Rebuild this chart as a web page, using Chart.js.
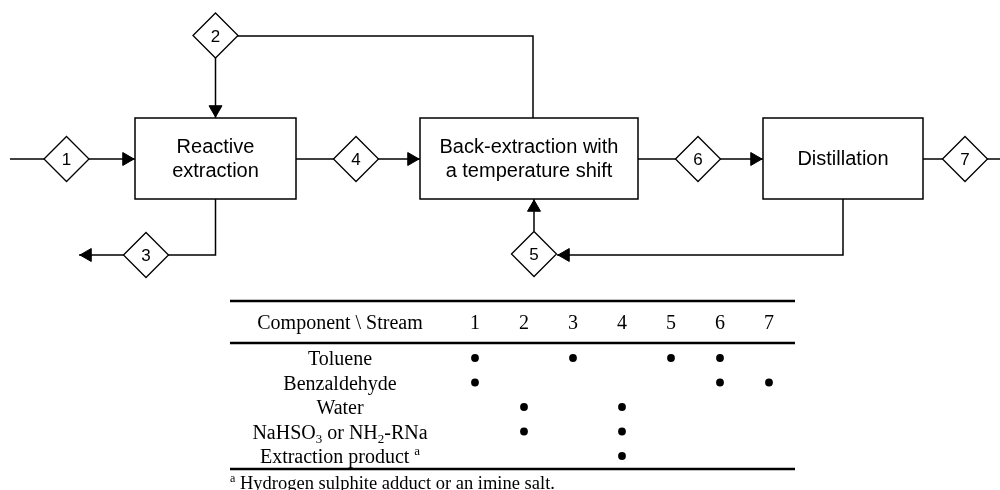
<!DOCTYPE html>
<html>
<head>
<meta charset="utf-8">
<title>Benzaldehyde recovery flowsheet</title>
<script src="https://cdn.jsdelivr.net/npm/chart.js@4.4.1/dist/chart.umd.min.js"></script>
<style>
    html, body { margin: 0; padding: 0; background: #fff; }
    #wrap { width: 1000px; height: 490px; position: relative; }
</style>
</head>
<body>
<div id="wrap"><canvas id="chart"></canvas></div>
<script>
// streams and process units
const streamIds = [1, 2, 3, 4, 5, 6, 7];
const unitNames = [['Reactive', 'extraction'], ['Back-extraction with', 'a temperature shift'], ['Distillation']];

// component table (_x = subscript, ^x = superscript)
const headerLabel = 'Component \\ Stream';
const components = ['Toluene', 'Benzaldehyde', 'Water', 'NaHSO_3 or NH_2-RNa', 'Extraction product ^a'];
const presence = [
    [1, 0, 1, 0, 1, 1, 0],
    [1, 0, 0, 0, 0, 1, 1],
    [0, 1, 0, 1, 0, 0, 0],
    [0, 1, 0, 1, 0, 0, 0],
    [0, 0, 0, 1, 0, 0, 0]
];
const footnote = '^a Hydrogen sulphite adduct or an imine salt.';

// flowsheet layout in diagram units
const unitBoxes = [[135, 118, 296, 199], [420, 118, 638, 199], [763, 118, 923, 199]];
const streamNodes = [[66.5, 159], [215.5, 35.5], [146, 255], [356, 159], [534, 254], [698, 159], [965, 159]];
const streamPaths = [
    [[10, 159], [135, 159]],
    [[533, 118], [533, 36], [215.5, 36], [215.5, 118]],
    [[215.5, 199], [215.5, 255], [79, 255]],
    [[296, 159], [420, 159]],
    [[843, 199], [843, 255], [557, 255]],
    [[534, 231], [534, 199]],
    [[638, 159], [763, 159]],
    [[923, 159], [1000, 159]]
];
// arrow tips: x, y, direction (0 up, 90 right, 180 down, 270 left)
const arrowTips = [[135, 159, 90], [215.5, 118, 180], [79, 255, 270], [420, 159, 90], [557, 255, 270], [534, 199, 0], [763, 159, 90]];

// table layout
const tableRules = [[230, 795, 301], [230, 795, 343], [230, 795, 469]];
const labelX = 340;
const colX0 = 475, colStep = 49;
const rowY0 = 358, rowStep = 24.5;
const headerRow = -1.45;

const W = 1000, H = 490;
const SANS = "'Liberation Sans', Arial, sans-serif";
const SERIF = "'Liberation Serif', 'Times New Roman', serif";
const arrowR = 7.5;

function lineDs(pts, width, cap) {
    return {
        data: pts.map(p => ({ x: p[0], y: p[1] })),
        showLine: true,
        fill: false,
        borderColor: '#000',
        borderWidth: width,
        borderCapStyle: cap || 'butt',
        borderJoinStyle: 'miter',
        pointRadius: 0,
        xAxisID: 'x',
        yAxisID: 'y',
        order: 2
    };
}

let datasets = [];
unitBoxes.forEach(b => {
    datasets.push(lineDs([[b[0], b[1]], [b[2], b[1]], [b[2], b[3]], [b[0], b[3]], [b[0], b[1]]], 1.5, 'square'));
});
streamPaths.forEach(p => datasets.push(lineDs(p, 1.5)));
tableRules.forEach(r => datasets.push(lineDs([[r[0], r[2]], [r[1], r[2]]], 2.5)));

datasets.push({
    data: arrowTips.map(a => {
        const rad = a[2] * Math.PI / 180;
        return { x: a[0] - Math.sin(rad) * (arrowR + 1), y: a[1] + Math.cos(rad) * (arrowR + 1) };
    }),
    pointStyle: 'triangle',
    pointRadius: arrowR,
    pointRotation: arrowTips.map(a => a[2]),
    backgroundColor: '#000',
    borderColor: '#000',
    borderWidth: 1,
    xAxisID: 'x',
    yAxisID: 'y',
    order: 1
});

datasets.push({
    data: streamNodes.map(n => ({ x: n[0], y: n[1] })),
    pointStyle: 'rectRot',
    pointRadius: 22.5,
    backgroundColor: '#fff',
    borderColor: '#000',
    borderWidth: 1.3,
    xAxisID: 'x',
    yAxisID: 'y',
    order: 0
});

let dots = [];
presence.forEach((row, r) => row.forEach((v, c) => {
    if (v) dots.push({ x: streamIds[c], y: r });
}));
datasets.push({
    data: dots,
    pointStyle: 'circle',
    pointRadius: 3.9,
    backgroundColor: '#000',
    borderWidth: 0,
    xAxisID: 'tx',
    yAxisID: 'ty',
    order: 0
});

// text with _sub and ^sup characters
function richText(ctx, str, x, y, size, family, align) {
    const parts = [];
    for (let i = 0; i < str.length; i++) {
        const c = str[i];
        if ((c === '_' || c === '^') && i + 1 < str.length) {
            parts.push({ t: str[i + 1], k: c });
            i++;
        } else if (parts.length && !parts[parts.length - 1].k) {
            parts[parts.length - 1].t += c;
        } else {
            parts.push({ t: c, k: '' });
        }
    }
    const fontOf = p => (p.k === '_' ? size * 0.65 : p.k === '^' ? size * 0.65 : size) + 'px ' + family;
    let total = 0;
    parts.forEach(p => { ctx.font = fontOf(p); p.w = ctx.measureText(p.t).width; total += p.w; });
    let cx = align === 'left' ? x : x - total / 2;
    ctx.textAlign = 'left';
    ctx.textBaseline = 'alphabetic';
    parts.forEach(p => {
        ctx.font = fontOf(p);
        const dy = p.k === '_' ? size * 0.2 : p.k === '^' ? -size * 0.4 : 0;
        ctx.fillText(p.t, cx, y + dy);
        cx += p.w;
    });
}

const textPlugin = {
    id: 'flowText',
    afterDatasetsDraw(chart) {
        const { ctx, scales } = chart;
        const sx = scales.x, sy = scales.y, tx = scales.tx, ty = scales.ty;
        ctx.save();
        ctx.fillStyle = '#000';

        // unit labels
        ctx.font = '20px ' + SANS;
        ctx.textAlign = 'center';
        ctx.textBaseline = 'alphabetic';
        unitBoxes.forEach((b, i) => {
            const cx = sx.getPixelForValue((b[0] + b[2]) / 2);
            const cy = sy.getPixelForValue((b[1] + b[3]) / 2);
            const lines = unitNames[i];
            lines.forEach((l, j) => {
                ctx.fillText(l, cx, cy + 6 + (j - (lines.length - 1) / 2) * 24);
            });
        });

        // stream numbers
        ctx.font = '17px ' + SANS;
        streamNodes.forEach((n, i) => {
            ctx.fillText(String(streamIds[i]), sx.getPixelForValue(n[0]), sy.getPixelForValue(n[1]) + 6);
        });

        // table header
        const hy = ty.getPixelForValue(headerRow) + 7;
        richText(ctx, headerLabel, labelX, hy, 20, SERIF, 'center');
        streamIds.forEach(s => richText(ctx, String(s), tx.getPixelForValue(s), hy, 20, SERIF, 'center'));

        // row labels
        components.forEach((c, r) => richText(ctx, c, labelX, ty.getPixelForValue(r) + 7, 20, SERIF, 'center'));

        // footnote
        richText(ctx, footnote, 230, 489, 18.5, SERIF, 'left');
        ctx.restore();
    }
};

const ctx = document.getElementById('chart').getContext('2d');
const chart = new Chart(ctx, {
    type: 'scatter',
    data: { datasets: datasets },
    options: {
        responsive: true,
        maintainAspectRatio: false,
        animation: false,
        devicePixelRatio: 1,
        events: [],
        layout: { autoPadding: false, padding: 0 },
        plugins: { legend: { display: false }, tooltip: { enabled: false } },
        scales: {
            x: { type: 'linear', min: 0, max: W, display: false },
            y: { type: 'linear', min: 0, max: H, reverse: true, display: false },
            tx: { type: 'linear', axis: 'x', min: 1 - colX0 / colStep, max: 1 + (W - colX0) / colStep, display: false },
            ty: { type: 'linear', axis: 'y', reverse: true, min: -rowY0 / rowStep, max: (H - rowY0) / rowStep, display: false }
        }
    },
    plugins: [textPlugin]
});
</script>
</body>
</html>
